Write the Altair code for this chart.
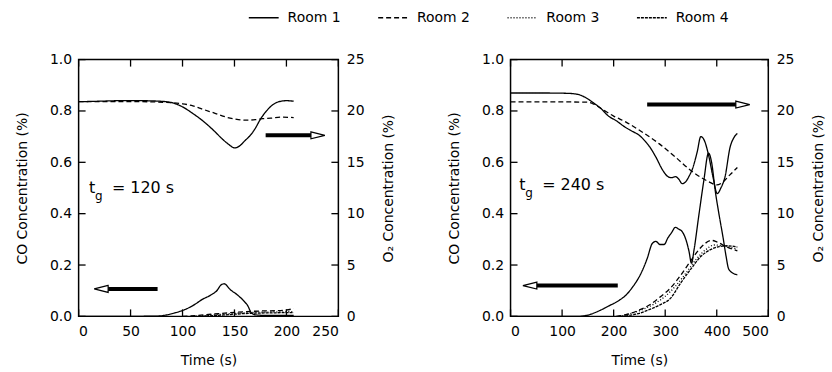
import altair as alt
import pandas as pd

ROOMS = ["Room 1", "Room 2", "Room 3", "Room 4"]
DASHES = [[1, 0], [5, 3], [1, 2], [3, 1]]

CO_TICKS = [0.0, 0.2, 0.4, 0.6, 0.8, 1.0]
O2_TICKS = [0, 5, 10, 15, 20, 25]

# ---------------- Panel A : t_g = 120 s ----------------
A_XTICKS = [0, 50, 100, 150, 200, 250]

A_O2_R1_T = [0, 20, 40, 60, 78, 90, 100, 110, 120, 130, 138, 145, 150, 155, 160, 165, 170, 175, 180, 185, 190, 195, 200, 207]
A_O2_R1_V = [20.9, 20.95, 21.0, 21.0, 20.95, 20.8, 20.4, 19.75, 19.0, 18.1, 17.3, 16.7, 16.4, 16.6, 17.1, 17.6, 18.3, 19.2, 19.9, 20.45, 20.8, 20.95, 21.0, 20.95]
A_O2_R2_T = [0, 30, 60, 90, 100, 110, 120, 132, 142, 151, 160, 170, 177, 185, 195, 207]
A_O2_R2_V = [20.9, 20.9, 20.9, 20.8, 20.7, 20.5, 20.15, 19.75, 19.4, 19.2, 19.1, 19.15, 19.25, 19.3, 19.4, 19.35]

A_CO_R1_T = [0, 40, 75, 85, 92, 100, 110, 119, 128, 133, 137, 140, 146, 153, 159, 163, 166, 170, 180, 195, 207]
A_CO_R1_V = [0, 0, 0.001, 0.006, 0.013, 0.023, 0.042, 0.066, 0.085, 0.1, 0.122, 0.127, 0.104, 0.083, 0.06, 0.04, 0.015, 0.006, 0.004, 0.004, 0.004]
A_CO_R2_T = [100, 115, 130, 145, 160, 175, 190, 200, 207]
A_CO_R2_V = [0, 0.004, 0.009, 0.014, 0.018, 0.021, 0.022, 0.025, 0.03]
A_CO_R3_T = [110, 125, 140, 155, 170, 185, 200, 207]
A_CO_R3_V = [0, 0.004, 0.009, 0.013, 0.016, 0.017, 0.018, 0.019]
A_CO_R4_T = [115, 130, 145, 160, 175, 190, 207]
A_CO_R4_V = [0, 0.003, 0.007, 0.011, 0.013, 0.014, 0.015]

# arrows (CO units): shaft start, shaft end, tip, level, direction
A_ARROW_X1 = [180, 76]
A_ARROW_X2 = [228, 24]
A_ARROW_TIP = [237, 15]
A_ARROW_Y = [0.705, 0.107]
A_ARROW_DIR = ["right", "left"]
A_TG_X, A_TG_Y, A_TG_LABEL = 10, 0.5, "= 120 s"

# ---------------- Panel B : t_g = 240 s ----------------
B_XTICKS = [0, 100, 200, 300, 400, 500]

B_O2_R1_T = [0, 60, 110, 130, 145, 160, 175, 190, 205, 220, 235, 250, 262, 270, 282, 295, 305, 312, 320, 326,
             333, 340, 346, 353, 362, 369, 376, 385, 393, 401, 408, 416, 426, 433, 440]
B_O2_R1_V = [21.75, 21.75, 21.72, 21.62, 21.32, 20.82, 20.25, 19.5, 19.05, 18.5, 18.05, 17.62, 17.0, 16.5, 15.5, 14.25, 13.62, 13.5, 13.6, 13.38,
             12.92, 13.12, 13.62, 14.38, 16.0, 17.5, 17.12, 15.5, 13.5, 11.95, 12.5, 13.58, 16.5, 17.38, 17.8]
B_O2_R2_T = [0, 100, 150, 160, 180, 200, 224, 250, 288, 320, 353, 385, 400, 410, 425, 440]
B_O2_R2_V = [20.88, 20.88, 20.85, 20.7, 20.1, 19.5, 18.92, 18.12, 16.82, 15.5, 14.08, 13.1, 12.8, 13.0, 13.75, 14.5]

B_CO_R1_T = [0, 130, 150, 170, 190, 211, 225, 237, 247, 256, 265, 275, 282, 290, 298, 305, 312, 320, 326, 333,
             340, 346, 351, 356, 365, 375, 384, 390, 397, 405, 412, 418, 423, 430, 440]
B_CO_R1_V = [0, 0, 0.005, 0.02, 0.04, 0.063, 0.085, 0.115, 0.145, 0.18, 0.225, 0.284, 0.292, 0.28, 0.28, 0.305, 0.325, 0.347, 0.34, 0.33,
             0.3, 0.255, 0.207, 0.26, 0.39, 0.53, 0.636, 0.6, 0.49, 0.39, 0.31, 0.235, 0.185, 0.17, 0.162]
B_CO_R2_T = [205, 230, 250, 270, 290, 310, 330, 350, 370, 390, 400, 420, 440]
B_CO_R2_V = [0, 0.01, 0.025, 0.045, 0.075, 0.11, 0.16, 0.218, 0.27, 0.296, 0.29, 0.27, 0.255]
B_CO_R3_T = [210, 240, 260, 280, 300, 320, 340, 360, 380, 395, 410, 440]
B_CO_R3_V = [0, 0.015, 0.03, 0.05, 0.078, 0.118, 0.168, 0.222, 0.262, 0.278, 0.275, 0.262]
B_CO_R4_T = [215, 250, 270, 290, 310, 330, 350, 370, 390, 405, 420, 440]
B_CO_R4_V = [0, 0.012, 0.027, 0.045, 0.07, 0.13, 0.185, 0.235, 0.262, 0.272, 0.275, 0.27]

B_ARROW_X1 = [265, 208]
B_ARROW_X2 = [450, 40]
B_ARROW_TIP = [464, 24]
B_ARROW_Y = [0.825, 0.12]
B_ARROW_DIR = ["right", "left"]
B_TG_X, B_TG_Y, B_TG_LABEL = 17, 0.51, "= 240 s"

H = 258
FONT = "DejaVu Sans"


def long_df(series):
    rows = []
    for room, ts, vs in series:
        for t, v in zip(ts, vs):
            rows.append({"room": room, "t": t, "v": v})
    return pd.DataFrame(rows)


LEGEND = alt.Legend(
    title=None, orient="none", legendX=170, legendY=-58, direction="horizontal",
    symbolType="stroke", symbolSize=900, symbolStrokeWidth=1.5, symbolStrokeColor="black",
    labelFont=FONT, labelFontSize=14, labelColor="black", columnPadding=34, labelOffset=8,
)


def panel(W, co_series, o2_series, xmax, xticks, ax1, ax2, atip, ay, adir, tgx, tgy, tglabel):
    co_df = long_df(co_series)
    o2_df = long_df(o2_series)
    x_scale = alt.Scale(domain=[0, xmax], nice=False, zero=False)
    x_axis = alt.Axis(values=xticks, format="d", title="Time (s)", labelPadding=8, titlePadding=15)
    co_scale = alt.Scale(domain=[0, 1], nice=False, zero=False)
    co_axis = alt.Axis(values=CO_TICKS, format=".1f", title="CO Concentration (%)",
                       orient="left", labelPadding=7, titlePadding=20)

    def X(f):
        return alt.X(f, scale=x_scale, axis=x_axis)

    def Y(f):
        return alt.Y(f, scale=co_scale, axis=co_axis)

    dash = alt.StrokeDash("room:N", scale=alt.Scale(domain=ROOMS, range=DASHES), legend=LEGEND)
    co_lines = alt.Chart(co_df).mark_line(color="black", strokeWidth=1.3, interpolate="monotone").encode(
        x=X("t:Q"), y=Y("v:Q"), strokeDash=dash)

    xt = pd.DataFrame({"t": xticks})
    yt = pd.DataFrame({"v": CO_TICKS})
    tick_b = alt.Chart(xt).mark_rule(color="black", strokeWidth=1.3).encode(x=X("t:Q"), y=alt.value(H), y2=alt.value(H - 7))
    tick_t = alt.Chart(xt).mark_rule(color="black", strokeWidth=1.3).encode(x=X("t:Q"), y=alt.value(0), y2=alt.value(7))
    tick_l = alt.Chart(yt).mark_rule(color="black", strokeWidth=1.3).encode(y=Y("v:Q"), x=alt.value(0), x2=alt.value(7))
    tick_r = alt.Chart(yt).mark_rule(color="black", strokeWidth=1.3).encode(y=Y("v:Q"), x=alt.value(W), x2=alt.value(W - 7))

    arr = pd.DataFrame({"x1": ax1, "x2": ax2, "tip": atip, "y": ay, "dir": adir})
    shaft = alt.Chart(arr).mark_rule(color="black", strokeWidth=4).encode(
        x=X("x1:Q"), x2="x2:Q", y=Y("y:Q"))
    head = alt.Chart(arr).mark_point(filled=True, fill="white", stroke="black", strokeWidth=1.2, size=196, opacity=1).encode(
        x=X("tip:Q"), y=Y("y:Q"),
        shape=alt.Shape("dir:N", scale=alt.Scale(domain=["right", "left"],
                                                  range=["M-2,-0.5L0,0L-2,0.5Z", "M2,-0.5L0,0L2,0.5Z"]), legend=None))

    tg = pd.DataFrame({"x": [tgx], "y": [tgy]})
    base = alt.Chart(tg).encode(x=X("x:Q"), y=Y("y:Q"))
    t1 = base.mark_text(align="left", baseline="middle", font=FONT, fontSize=16, color="black").encode(text=alt.value("t"))
    t2 = base.mark_text(align="left", baseline="middle", font=FONT, fontSize=12, color="black", dx=6, dy=8).encode(text=alt.value("g"))
    t3 = base.mark_text(align="left", baseline="middle", font=FONT, fontSize=16, color="black", dx=23).encode(text=alt.value(tglabel))

    inner = alt.layer(co_lines, tick_b, tick_t, tick_l, tick_r, shaft, head, t1, t2, t3)

    o2_lines = alt.Chart(o2_df).mark_line(color="black", strokeWidth=1.3, interpolate="monotone").encode(
        x=X("t:Q"),
        y=alt.Y("v:Q", scale=alt.Scale(domain=[0, 25], nice=False, zero=False),
                axis=alt.Axis(values=O2_TICKS, format="d", title="O₂ Concentration (%)", orient="right",
                              titleAngle=270, labelPadding=8, titlePadding=32)),
        strokeDash=dash)

    return alt.layer(inner, o2_lines).resolve_scale(y="independent").properties(width=W, height=H)


left = panel(
    261,
    [("Room 1", A_CO_R1_T, A_CO_R1_V), ("Room 2", A_CO_R2_T, A_CO_R2_V),
     ("Room 3", A_CO_R3_T, A_CO_R3_V), ("Room 4", A_CO_R4_T, A_CO_R4_V)],
    [("Room 1", A_O2_R1_T, A_O2_R1_V), ("Room 2", A_O2_R2_T, A_O2_R2_V)],
    250, A_XTICKS, A_ARROW_X1, A_ARROW_X2, A_ARROW_TIP, A_ARROW_Y, A_ARROW_DIR, A_TG_X, A_TG_Y, A_TG_LABEL)

right = panel(
    259,
    [("Room 1", B_CO_R1_T, B_CO_R1_V), ("Room 2", B_CO_R2_T, B_CO_R2_V),
     ("Room 3", B_CO_R3_T, B_CO_R3_V), ("Room 4", B_CO_R4_T, B_CO_R4_V)],
    [("Room 1", B_O2_R1_T, B_O2_R1_V), ("Room 2", B_O2_R2_T, B_O2_R2_V)],
    500, B_XTICKS, B_ARROW_X1, B_ARROW_X2, B_ARROW_TIP, B_ARROW_Y, B_ARROW_DIR, B_TG_X, B_TG_Y, B_TG_LABEL)

chart = alt.hconcat(left, right, spacing=49).properties(
    padding={"left": 14, "top": 1, "right": 5, "bottom": 5},
    background="white",
).configure_view(stroke="black", strokeWidth=1.5).configure_axis(
    domain=False, ticks=False, grid=False,
    labelFont=FONT, labelFontSize=14, labelColor="black",
    titleFont=FONT, titleFontSize=14, titleFontWeight="normal", titleColor="black",
)

chart.save("out.html", embed_options={"renderer": "svg", "actions": False})
